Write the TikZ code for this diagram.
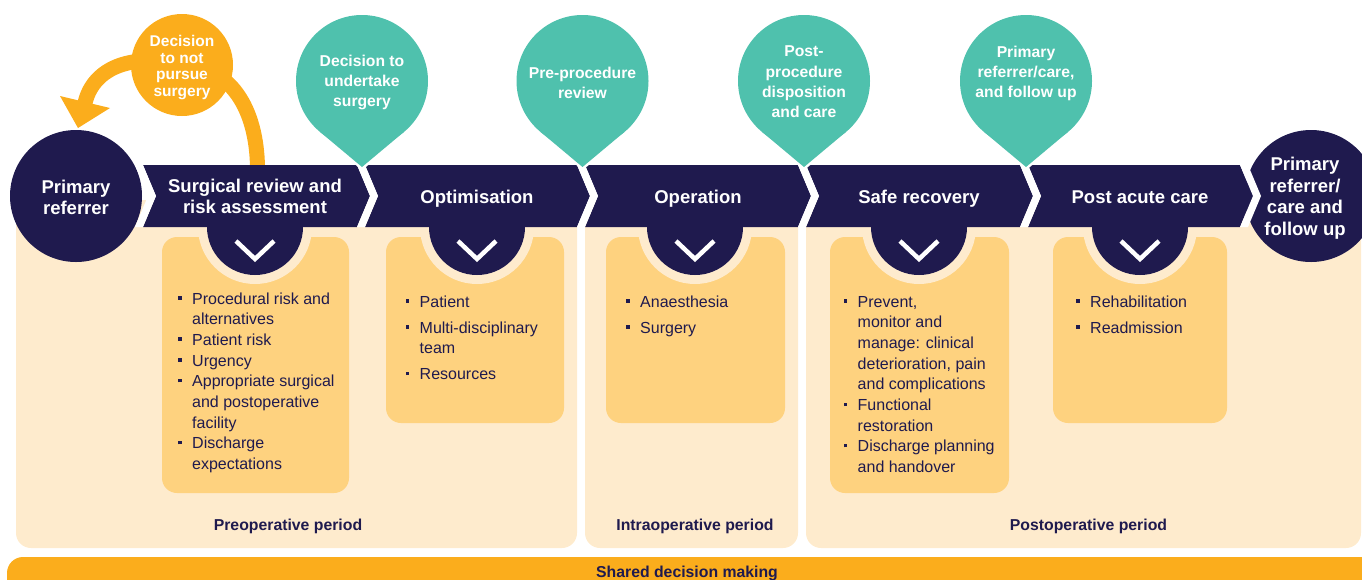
\documentclass[tikz,border=0pt]{standalone}
\usepackage{fontspec}
\setmainfont{Liberation Sans}
\definecolor{cNavy}{HTML}{1F1A4E}
\definecolor{cTeal}{HTML}{4FC1AD}
\definecolor{cOrange}{HTML}{FBAD1C}
\definecolor{cCream}{HTML}{FEEBCD}
\definecolor{cBox}{HTML}{FED27F}
\newcommand{\bsq}{\rule[4.5pt]{3.5pt}{3.5pt}}
\newcommand{\ctab}[1]{\begin{tabular}[t]{@{}c@{}}#1\end{tabular}}
\newcommand{\ltab}[1]{\begin{tabular}[t]{@{}l@{\hspace{10.5pt}}l@{}}#1\end{tabular}}
\begin{document}
\begin{tikzpicture}[x=1pt,y=-1pt,
  chevlabel/.style={text=white, font=\fontsize{18.5}{21}\selectfont\bfseries, inner sep=0pt, anchor=base},
  refcircle/.style={circle, fill=cNavy, minimum size=132pt, inner sep=0pt},
  reftext/.style={text=white, font=\fontsize{18.5}{21.5}\selectfont\bfseries, inner sep=0pt, anchor=base},
  balloon/.style={circle, fill=cTeal, minimum size=132pt, inner sep=0pt},
  balloontext/.style={text=white, font=\fontsize{15.7}{20.3}\selectfont\bfseries, inner sep=0pt, anchor=base},
  decnode/.style={circle, fill=cOrange, minimum size=102pt, inner sep=0pt},
  dectext/.style={text=white, font=\fontsize{15.5}{16.5}\selectfont\bfseries, inner sep=0pt, anchor=base},
  listtext/.style={text=cNavy, font=\fontsize{16}{20.7}\selectfont, inner sep=0pt, anchor=base west},
  periodlabel/.style={text=cNavy, font=\fontsize{15.8}{19}\selectfont\bfseries, inner sep=0pt, anchor=base},
  vmark/.style={draw=white, line width=4.5pt, line join=miter},
  halo/.style={draw=white, line width=5pt, line join=round},
  arrowline/.style={draw=cOrange, line width=15pt}
]
\useasboundingbox (0,0) rectangle (1362,579);
\clip (0,0) rectangle (1362,579);

% shared decision making bar
\fill[cOrange, rounded corners=16pt] (7,557) rectangle (1400,620);

% period panels
\fill[cCream, rounded corners=15pt] (16,200) rectangle (577,548);
\fill[cCream, rounded corners=15pt] (585,200) rectangle (798,548);
\fill[cCream, rounded corners=15pt] (806,200) rectangle (1361,548);

% content boxes
\fill[cBox, rounded corners=15pt] (162,237) rectangle (349,493);
\fill[cBox, rounded corners=15pt] (386,237) rectangle (564,423);
\fill[cBox, rounded corners=15pt] (606,237) rectangle (785,423);
\fill[cBox, rounded corners=15pt] (830,237) rectangle (1009,493);
\fill[cBox, rounded corners=15pt] (1053,237) rectangle (1227,423);

% drops with chevron marks
\foreach \cx in {255,477,695,919,1140} {
  \fill[cCream] (\cx,227) circle[radius=57pt];
  \fill[cNavy] (\cx,227) circle[radius=48pt];
  \draw[vmark] (\cx-19,241) -- (\cx,259) -- (\cx+19,241);
}

% referrer circles
\node[refcircle] (pr1) at (76,196) {};
\node[refcircle] (pr2) at (1311,196) {};

% orange return arrow
\coordinate (decc) at (182,65);
\coordinate (arrS) at (257.5,172);
\coordinate (arrE) at (84.8,104);
\coordinate (ahL) at (60,96);
\coordinate (ahR) at (110,108);
\coordinate (ahT) at (78,128);
\draw[arrowline] (arrS) .. controls (258,115) and (235,67) .. (decc) .. controls (128,52) and (92,70) .. (arrE);
\fill[cOrange] (ahL) -- (ahT) -- (ahR) -- cycle;

% chevron band
\foreach \L/\R in {143/357, 365/577, 585/798, 806/1020, 1028/1240} {
  \fill[cNavy] (\L,165) -- (\R,165) -- (\R+13,196) -- (\R,227) -- (\L,227) -- (\L+13,196) -- cycle;
}
% white gaps between pieces
\foreach \R in {135,357,577,798,1020,1240} {
  \fill[white] (\R-2.1,160) -- (\R+13,196) -- (\R,227) -- (\R+8,227) -- (\R+21,196) -- (\R+5.9,160) -- cycle;
}

% balloons
\foreach \bx in {362,582.5,804,1026} {
  \draw[halo] (\bx-42.2,131.7) -- (\bx,167) -- (\bx+42.2,131.7) -- cycle;
  \fill[cTeal] (\bx-42.2,131.7) -- (\bx,167) -- (\bx+42.2,131.7) -- cycle;
}
\node[balloon] (b1) at (362,81) {};
\node[balloon] (b2) at (582.5,81) {};
\node[balloon] (b3) at (804,81) {};
\node[balloon] (b4) at (1026,81) {};

% decision not to pursue
\node[decnode] (dec) at (decc) {};

% texts
\node[dectext] (dect) at (182,46.7) {\ctab{Decision\\to not\\pursue\\surgery}};
\node[balloontext] (b1t) at (362,66) {\ctab{Decision to\\undertake\\surgery}};
\node[balloontext] (b2t) at (582.5,78) {\ctab{Pre-procedure\\review}};
\node[balloontext] (b3t) at (804,56.7) {\ctab{Post-\\procedure\\disposition\\and care}};
\node[balloontext] (b4t) at (1026,57) {\ctab{Primary\\referrer/care,\\and follow up}};

\node[reftext] (pr1t) at (76,193.3) {\ctab{Primary\\referrer}};
\node[reftext] (pr2t) at (1305,170.7) {\ctab{Primary\\referrer/\\care and\\follow up}};

\node[chevlabel] (s1) at (255,192.5) {\ctab{Surgical review and\\risk assessment}};
\node[chevlabel] (s2) at (477,203) {Optimisation};
\node[chevlabel] (s3) at (698,203) {Operation};
\node[chevlabel] (s4) at (919,203) {Safe recovery};
\node[chevlabel] (s5) at (1140,203) {Post acute care};

\node[listtext] (l1) at (178,304) {\ltab{\bsq & Procedural risk and\\ & alternatives\\ \bsq & Patient risk\\ \bsq & Urgency\\ \bsq & Appropriate surgical\\ & and postoperative\\ & facility\\ \bsq & Discharge\\ & expectations}};
\node[listtext] (l2) at (405.5,307) {\ltab{\bsq & Patient\\[5.5pt] \bsq & Multi-disciplinary\\ & team\\[5pt] \bsq & Resources}};
\node[listtext] (l3) at (626,307) {\ltab{\bsq & Anaesthesia\\[5.5pt] \bsq & Surgery}};
\node[listtext] (l4) at (843.5,307) {\ltab{\bsq & Prevent,\\ & monitor and\\ & manage: clinical\\ & deterioration, pain\\ & and complications\\ \bsq & Functional\\ & restoration\\ \bsq & Discharge planning\\ & and handover}};
\node[listtext] (l5) at (1076,307) {\ltab{\bsq & Rehabilitation\\[5.5pt] \bsq & Readmission}};

\node[periodlabel] (p1) at (288,530.5) {Preoperative period};
\node[periodlabel] (p2) at (695,530.5) {Intraoperative period};
\node[periodlabel] (p3) at (1088.5,530.5) {Postoperative period};
\node[periodlabel] (sdm) at (687,577.5) {Shared decision making};
\end{tikzpicture}
\end{document}
